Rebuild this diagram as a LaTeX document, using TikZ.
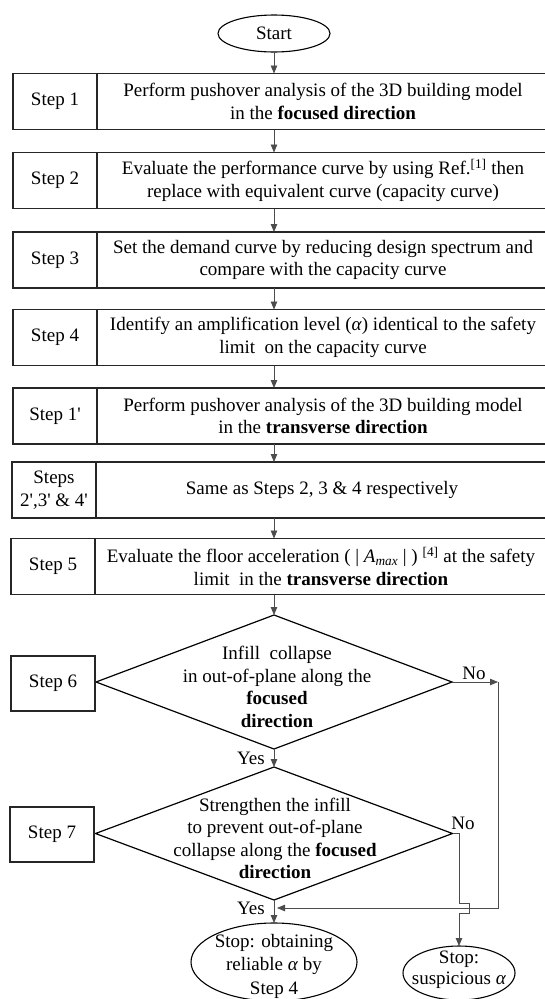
\documentclass[tikz,border=0pt]{standalone}
\usepackage{fontspec}
\setmainfont{Liberation Serif}
\usetikzlibrary{positioning,shapes.geometric,arrows.meta}
\newcommand{\pr}{\textquotesingle}

\begin{document}
\begin{tikzpicture}[x=1pt,y=-1pt,font=\fontsize{19}{22.5}\selectfont,
  stepcell/.style={draw=black!85,line width=1.3pt,outer sep=0pt,minimum width=84pt,minimum height=56pt,inner sep=0pt,align=center},
  desc/.style={draw=black!85,line width=1.3pt,outer sep=0pt,minimum width=452pt,minimum height=56pt,inner sep=0pt,align=center},
  decision/.style={draw,diamond,line width=1.2pt,outer sep=0pt,minimum width=356pt,minimum height=134pt,inner sep=0pt},
  term/.style={draw,ellipse,line width=1.1pt,outer sep=0pt,inner sep=0pt,align=center},
  line/.style={draw=black!70,line width=0.8pt},
  arr/.style={line,-{Triangle[length=8pt,width=6.5pt]}},
  lbl/.style={inner sep=0pt,align=center}]
  \clip (0,0) rectangle (545,999);

  \node[term,minimum width=112pt,minimum height=37pt] (start) at (274,33.5) {Start};

  \node[stepcell] (s1) at (55,101.5) {Step 1};
  \node[desc,right=0pt of s1] (t1) {Perform pushover analysis of the 3D building model\\in the \textbf{focused direction}};
  \node[stepcell] (s2) at (55,180.5) {Step 2};
  \node[desc,right=0pt of s2] (t2) {Evaluate the performance curve by using Ref.\textsuperscript{[1]} then\\replace with equivalent curve (capacity curve)};
  \node[stepcell] (s3) at (55,260) {Step 3};
  \node[desc,right=0pt of s3] (t3) {Set the demand curve by reducing design spectrum and\\compare with the capacity curve};
  \node[stepcell] (s4) at (55,337.5) {Step 4};
  \node[desc,right=0pt of s4] (t4) {Identify an amplification level (\textit{α}) identical to the safety\\limit\ \ on the capacity curve};
  \node[stepcell] (s1r) at (55,416) {Step 1\pr};
  \node[desc,right=0pt of s1r] (t1r) {Perform pushover analysis of the 3D building model\\in the \textbf{transverse direction}};
  \node[stepcell] (s2r) at (54,490) {Steps\\2\pr,3\pr{} \& 4\pr};
  \node[desc,right=0pt of s2r] (t2r) {Same as Steps 2, 3 \& 4 respectively};
  \node[stepcell] (s5) at (53,566.5) {Step 5};
  \node[desc,right=0pt of s5] (t5) {Evaluate the floor acceleration ( | \textit{A}\textsubscript{\textit{max}} | ) \textsuperscript{[4]} at the safety\\limit\ \ in the \textbf{transverse direction}};

  % decisions
  \node[decision] (q6) at (274,682) {};
  \node[lbl] (q6txt) at (277,687) {Infill\ \ collapse\\in out-of-plane along the\\\textbf{focused}\\\textbf{direction}};
  \node[stepcell,minimum height=55pt] (s6) at (53,683.5) {Step 6};
  \node[decision,minimum width=357pt,minimum height=133pt] (q7) at (274,833.5) {};
  \node[lbl] (q7txt) at (275,838.5) {Strengthen the infill\\to prevent out-of-plane\\collapse along the \textbf{focused}\\\textbf{direction}};
  \node[stepcell,minimum height=55pt] (s7) at (52,834.5) {Step 7};

  % stops
  \node[term,minimum width=166pt,minimum height=78pt] (stop1) at (274,962) {};
  \node[lbl,font=\fontsize{19}{23.5}\selectfont] (stop1txt) at (274,966) {Stop: obtaining\\reliable \textit{α} by\\Step 4};
  \node[term,minimum width=112pt,minimum height=54pt] (stop2) at (459,973) {};
  \node[lbl,font=\fontsize{19}{21}\selectfont] (stop2txt) at (459,969.5) {Stop:\\suspicious \textit{α}};

  \node[lbl] (yes1) at (251,758) {Yes};
  \node[lbl] (yes2) at (251,908) {Yes};
  \node[lbl] (no1) at (474,673) {No};
  \node[lbl] (no2) at (463,823) {No};

  \coordinate (c1) at (498,682);
  \coordinate (c2) at (498,908);
  \coordinate (c3) at (277,908);

  \draw[arr] (start.south) -- (start.south |- t1.north);
  \foreach \a/\b in {t1/t2,t2/t3,t3/t4,t4/t1r,t1r/t2r,t2r/t5}
    \draw[arr] (start.south |- \a.south) -- (start.south |- \b.north);
  \draw[arr] (start.south |- t5.south) -- (q6.north);
  \draw[arr] (q6.south) -- (q7.north);
  \draw[arr] (q7.south) -- (q7.south |- stop1.north);
  \draw[arr] (q6.east) -- (c1);
  \draw[arr] (c1) -- (c2) -- (c3);
  \draw[arr] (q7.east) -- (q7.east -| stop2.north) -- ([yshift=5pt]c2 -| stop2.north) -- ++(10,0) -- ++(0,10) -- ++(-10,0) -- (stop2.north);
\end{tikzpicture}
\end{document}
